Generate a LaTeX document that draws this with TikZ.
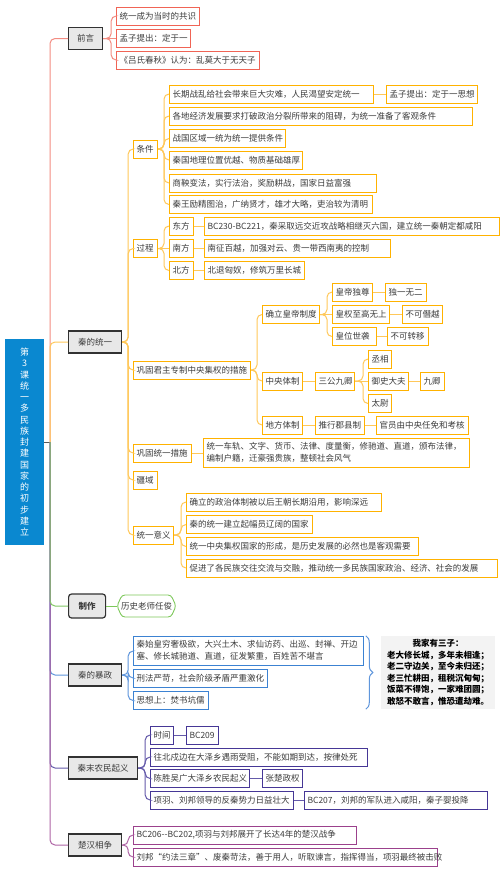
\documentclass[tikz,border=0pt]{standalone}
\usepackage{fontspec}
\setmainfont{Noto Sans CJK SC}
\usetikzlibrary{decorations.pathreplacing}
\definecolor{cred}{RGB}{240,100,85}
\definecolor{credl}{RGB}{243,140,130}
\definecolor{cor}{RGB}{255,178,0}
\definecolor{corl}{RGB}{255,200,90}
\definecolor{cgr}{RGB}{125,200,90}
\definecolor{cgrl}{RGB}{130,200,100}
\definecolor{cbl}{RGB}{60,130,210}
\definecolor{cbll}{RGB}{95,150,220}
\definecolor{cin}{RGB}{70,55,150}
\definecolor{cinl}{RGB}{100,90,170}
\definecolor{cpu}{RGB}{155,65,140}
\definecolor{cpul}{RGB}{175,100,165}
\definecolor{croot}{RGB}{10,136,208}
\definecolor{txt}{RGB}{60,60,60}
\definecolor{tpd}{RGB}{50,50,50}
\definecolor{tpf}{RGB}{232,232,232}
\definecolor{poemf}{RGB}{243,243,243}
\newcommand\mybox[6]{\pgfmathsetlengthmacro\mybw{#4-#3-6}\node[#2] (#1) at (#3,#5) {\makebox[\mybw][l]{#6}};}
\newcommand\mytop[6]{\pgfmathsetlengthmacro\mybw{#4-#3-6}\node[#2] (#1) at (#3,#5) {\makebox[\mybw][c]{#6}};}
\newcommand\mytwo[2]{\begin{tabular}{@{}l@{}}#1\\#2\end{tabular}}
\tikzset{
  bxbase/.style={draw, line width=1pt, inner xsep=3pt, inner ysep=0pt, minimum height=18pt, text=txt, font=\fontsize{8.5}{10}\selectfont, anchor=west},
  rb/.style={bxbase, draw=cred},
  ob/.style={bxbase, draw=cor},
  bb/.style={bxbase, draw=cbl},
  ib/.style={bxbase, draw=cin},
  pb/.style={bxbase, draw=cpu},
  tp/.style={bxbase, draw=tpd, fill=tpf, line width=1.2pt, minimum height=22pt},
  twoline/.style={minimum height=29pt, font=\fontsize{8.5}{12}\selectfont},
  ln/.style={line width=1pt, rounded corners=5pt}
}
\begin{document}
\begin{tikzpicture}[x=1pt,y=-1pt]
\fill[white] (0,0) rectangle (503,873);
\useasboundingbox (0,0) rectangle (503,873);

% root
\node[fill=croot, text=white, minimum width=39pt, minimum height=206pt, inner sep=0pt, align=center, font=\fontsize{9}{11.25}\selectfont] (root) at (24.5,442) {第\\3\\课\\统\\一\\多\\民\\族\\封\\建\\国\\家\\的\\初\\步\\建\\立};
\coordinate (sp) at (50,442);

% 前言
\mytop{q}{tp}{68}{102}{38.5}{前言}
\mybox{q1}{rb}{116}{199}{16}{统一成为当时的共识}
\mybox{q2}{rb}{116}{190}{38.5}{孟子提出：定于一}
\mybox{q3}{rb}{116}{259}{60}{《吕氏春秋》认为：乱莫大于无天子}

% 秦的统一
\mytop{t}{tp}{68}{121}{342}{秦的统一}
\mybox{t1}{ob}{133}{157}{149}{条件}
\mybox{t11}{ob}{169}{373}{94}{长期战乱给社会带来巨大灾难，人民渴望安定统一}
\mybox{t111}{ob}{386}{477}{94}{孟子提出：定于一思想}
\mybox{t12}{ob}{169}{472}{116}{各地经济发展要求打破政治分裂所带来的阻碍，为统一准备了客观条件}
\mybox{t13}{ob}{169}{285}{138.5}{战国区域一统为统一提供条件}
\mybox{t14}{ob}{169}{302}{160}{秦国地理位置优越、物质基础雄厚}
\mybox{t15}{ob}{169}{376}{183}{商鞅变法，实行法治，奖励耕战，国家日益富强}
\mybox{t16}{ob}{169}{372}{204.5}{秦王励精图治，广纳贤才，雄才大略，吏治较为清明}

\mybox{t2}{ob}{133}{157}{248.5}{过程}
\mybox{t21}{ob}{169}{193}{226}{东方}
\mybox{t22}{ob}{169}{193}{248.5}{南方}
\mybox{t23}{ob}{169}{193}{270.5}{北方}
\mybox{t211}{ob}{204}{499}{226}{BC230-BC221，秦采取远交近攻战略相继灭六国，建立统一秦朝定都咸阳}
\mybox{t221}{ob}{204}{390}{248.5}{南征百越，加强对云、贵一带西南夷的控制}
\mybox{t231}{ob}{204}{304}{270.5}{北退匈奴，修筑万里长城}

\mybox{t3}{ob}{133}{250}{370}{巩固君主专制中央集权的措施}
\mybox{t31}{ob}{262}{319}{314.5}{确立皇帝制度}
\mybox{t311}{ob}{332}{372}{292}{皇帝独尊}
\mybox{t3111}{ob}{385}{426}{292}{独一无二}
\mybox{t312}{ob}{332}{389}{314.5}{皇权至高无上}
\mybox{t3121}{ob}{402}{442}{314.5}{不可僭越}
\mybox{t313}{ob}{332}{376}{336.5}{皇位世袭}
\mybox{t3131}{ob}{387}{428}{336.5}{不可转移}
\mybox{t32}{ob}{262}{302}{381}{中央体制}
\mybox{t321}{ob}{315}{354}{381}{三公九卿}
\mybox{t3211}{ob}{368}{391}{359}{丞相}
\mybox{t3212}{ob}{368}{408}{381}{御史大夫}
\mybox{t32121}{ob}{420}{444}{381}{九卿}
\mybox{t3213}{ob}{368}{391}{403.5}{太尉}
\mybox{t33}{ob}{262}{302}{425}{地方体制}
\mybox{t331}{ob}{315}{364}{425}{推行郡县制}
\mybox{t3311}{ob}{376}{468}{425}{官员由中央任免和考核}

\mybox{t4}{ob}{133}{191}{453}{巩固统一措施}
\mybox{t41}{ob,twoline}{203}{469}{453}{\mytwo{统一车轨、文字、货币、法律、度量衡，修驰道、直道，颁布法律，}{编制户籍，迁豪强贵族，整顿社会风气}}
\mybox{t5}{ob}{133}{157}{480}{疆域}
\mybox{t6}{ob}{133}{173}{535}{统一意义}
\mybox{t61}{ob}{186}{381}{502}{确立的政治体制被以后王朝长期沿用，影响深远}
\mybox{t62}{ob}{186}{312}{524.5}{秦的统一建立起幅员辽阔的国家}
\mybox{t63}{ob}{186}{418}{546.5}{统一中央集权国家的形成，是历史发展的必然也是客观需要}
\mybox{t64}{ob}{186}{497}{568}{促进了各民族交往交流与交融，推动统一多民族国家政治、经济、社会的发展}

% 制作
\mytop{m}{tp,rounded corners=3pt,minimum height=24pt,font=\fontsize{8.5}{10}\selectfont\bfseries}{68}{105}{606}{制作}
\mytop{m1}{bxbase,draw=none,minimum height=21pt}{117}{175}{606}{历史老师任俊}
\draw[cgr, line width=0.9pt, rounded corners=3pt] ([xshift=5pt]m1.north west) -- ([xshift=-5pt]m1.north east) -- (m1.east) -- ([xshift=-5pt]m1.south east) -- ([xshift=5pt]m1.south west) -- (m1.west) -- cycle;

% 秦的暴政
\mytop{b}{tp}{68}{121}{675}{秦的暴政}
\mybox{b1}{bb,twoline}{133}{363}{651}{\mytwo{秦始皇穷奢极欲，大兴土木、求仙访药、出巡、封禅、开边}{塞、修长城驰道、直道，征发繁重，百姓苦不堪言}}
\mybox{b2}{bb}{133}{267}{678}{刑法严苛，社会阶级矛盾严重激化}
\mybox{b3}{bb}{133}{208}{700.5}{思想上：焚书坑儒}
\node[fill=poemf, minimum width=114pt, minimum height=73pt, inner sep=0pt, align=center, text=black, font=\fontsize{8.5}{11.6}\selectfont\bfseries] (poem) at (438,672.5) {我家有三子：\\老大修长城，多年未相逢；\\老二守边关，至今未归还；\\老三忙耕田，租税沉甸甸；\\饭菜不得饱，一家难团圆；\\敢怒不敢言，惟恐遭劫难。};
\draw[cbll, line width=1pt, decorate, decoration={brace, amplitude=7pt}] ([xshift=-15pt]poem.north west) -- ([xshift=-15pt]poem.south west);

% 秦末农民起义
\mytop{n}{tp}{68}{137}{768}{秦末农民起义}
\mybox{n1}{ib}{150}{173}{735}{时间}
\mybox{n11}{ib}{186}{218}{735}{BC209}
\mybox{n2}{ib}{150}{367}{757}{往北戍边在大泽乡遇雨受阻，不能如期到达，按律处死}
\mybox{n3}{ib}{150}{249}{778.5}{陈胜吴广大泽乡农民起义}
\mybox{n31}{ib}{262}{302}{778.5}{张楚政权}
\mybox{n4}{ib}{150}{293}{800}{项羽、刘邦领导的反秦势力日益壮大}
\mybox{n41}{ib}{304}{487}{800}{BC207，刘邦的军队进入咸阳，秦子婴投降}

% 楚汉相争
\mytop{c}{tp}{68}{121}{845}{楚汉相争}
\mybox{c1}{pb}{133}{356}{835}{BC206-{}-BC202,项羽与刘邦展开了长达4年的楚汉战争}
\mybox{c2}{pb}{133}{437}{857}{刘邦“约法三章”、废秦苛法，善于用人，听取谏言，指挥得当，项羽最终被击败}

% ---------- connectors ----------
\draw[line width=1pt, gray!70!black] (root.east) -- (sp);
\draw[ln,credl] (sp) |- (q.west);
\draw[ln,corl] (sp) |- (t.west);
\draw[ln,cbll] (sp) |- (b.west);
\draw[ln,cinl] (sp) |- (n.west);
\draw[ln,cpul] (sp) |- (c.west);
\draw[ln,cgrl] (sp) |- (m.west);

\draw[ln,credl] (q.east) -- ++(8pt,0) |- (q1.west);
\draw[ln,credl] (q.east) -- (q2.west);
\draw[ln,credl] (q.east) -- ++(8pt,0) |- (q3.west);

\foreach \k in {t1,t2,t3,t4,t5,t6} {\draw[ln,corl] (t.east) -- ++(6pt,0) |- (\k.west);}
\foreach \k in {t11,t12,t13,t14,t15,t16} {\draw[ln,corl] (t1.east) -- ++(6pt,0) |- (\k.west);}
\draw[ln,corl] (t11.east) -- (t111.west);
\draw[ln,corl] (t2.east) -- ++(6pt,0) |- (t21.west);
\draw[ln,corl] (t2.east) -- (t22.west);
\draw[ln,corl] (t2.east) -- ++(6pt,0) |- (t23.west);
\draw[ln,corl] (t21.east) -- (t211.west);
\draw[ln,corl] (t22.east) -- (t221.west);
\draw[ln,corl] (t23.east) -- (t231.west);
\foreach \k in {t31,t32,t33} {\draw[ln,corl] (t3.east) -- ++(6pt,0) |- (\k.west);}
\draw[ln,corl] (t31.east) -- ++(7pt,0) |- (t311.west);
\draw[ln,corl] (t31.east) -- (t312.west);
\draw[ln,corl] (t31.east) -- ++(7pt,0) |- (t313.west);
\draw[ln,corl] (t311.east) -- (t3111.west);
\draw[ln,corl] (t312.east) -- (t3121.west);
\draw[ln,corl] (t313.east) -- (t3131.west);
\draw[ln,corl] (t32.east) -- (t321.west);
\draw[ln,corl] (t321.east) -- ++(8pt,0) |- (t3211.west);
\draw[ln,corl] (t321.east) -- (t3212.west);
\draw[ln,corl] (t321.east) -- ++(8pt,0) |- (t3213.west);
\draw[ln,corl] (t3212.east) -- (t32121.west);
\draw[ln,corl] (t33.east) -- (t331.west);
\draw[ln,corl] (t331.east) -- (t3311.west);
\draw[ln,corl] (t4.east) -- (t41.west);
\foreach \k in {t61,t62,t63,t64} {\draw[ln,corl] (t6.east) -- ++(7pt,0) |- (\k.west);}

\draw[ln,cgr] (m.east) -- (m1.west);

\foreach \k in {b1,b2,b3} {\draw[ln,cbll] (b.east) -- ++(6pt,0) |- (\k.west);}

\foreach \k in {n1,n2,n3,n4} {\draw[ln,cinl] (n.east) -- ++(7pt,0) |- (\k.west);}
\draw[ln,cinl] (n1.east) -- (n11.west);
\draw[ln,cinl] (n3.east) -- (n31.west);
\draw[ln,cinl] (n4.east) -- (n41.west);

\foreach \k in {c1,c2} {\draw[ln,cpul] (c.east) -- ++(6pt,0) |- (\k.west);}
\end{tikzpicture}
\end{document}
